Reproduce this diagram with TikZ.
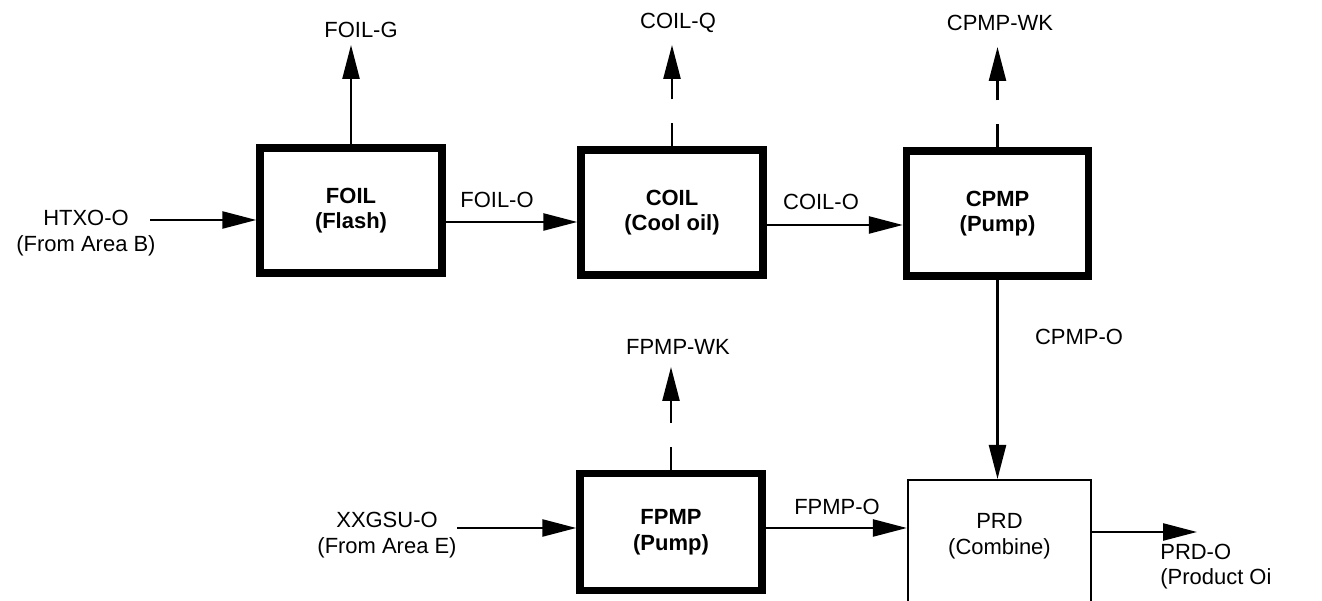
\documentclass[tikz,border=0pt]{standalone}
\usepackage{fontspec}
\setmainfont{Liberation Sans}
\usetikzlibrary{arrows.meta,positioning}
\begin{document}
\fontsize{12.5}{14.5}\selectfont
\begin{tikzpicture}[
  unit/.style={draw,line width=4.2pt,minimum width=3.64cm,minimum height=2.5cm,align=center,font=\bfseries},
  mixer/.style={draw,line width=1.3pt,minimum width=3.66cm,minimum height=3cm,anchor=north},
  stream/.style={inner sep=0pt,align=center},
  flow/.style={line width=1.4pt,-{Triangle[length=0.68cm,width=0.34cm]}},
  energy/.style={flow,dash pattern=on 0.46cm off 0.48cm on 3cm}]
  \useasboundingbox (0,0) rectangle (26.44,12.02);
  \clip (0,0) rectangle (26.44,12.02);
  % units
  \node[unit] (foil) at (7.02,7.81) {FOIL\\(Flash)};
  \node[unit] (coil) at (13.44,7.77) {COIL\\(Cool oil)};
  \node[unit] (cpmp) at (19.95,7.75) {CPMP\\(Pump)};
  \node[unit,minimum height=2.33cm] (fpmp) at (13.42,1.38) {FPMP\\(Pump)};
  \node[mixer] (prd) at (19.99,2.44) {};
  \node[stream] (prdtxt) at ([yshift=-1.14cm]prd.north) {PRD\\(Combine)};
  % streams
  \node[stream] (htxo) at (1.72,7.36) {HTXO-O\\(From Area B)};
  \node[stream] (xxgsu) at (7.74,1.32) {XXGSU-O\\(From Area E)};
  \node[stream] (foilg) at (7.22,11.42) {FOIL-G};
  \node[stream] (coilq) at (13.56,11.56) {COIL-Q};
  \node[stream] (cpmpwk) at (20.0,11.56) {CPMP-WK};
  \node[stream] (fpmpwk) at (13.56,5.08) {FPMP-WK};
  \node[stream] (foilo) at (9.94,8.02) {FOIL-O};
  \node[stream] (coilo) at (16.42,7.98) {COIL-O};
  \node[stream] (cpmpo) at (21.58,5.28) {CPMP-O};
  \node[stream] (fpmpo) at (16.74,1.88) {FPMP-O};
  \node[stream,align=left,anchor=west] (prdo) at (23.2,0.69) {PRD-O\\(Product Oi};
  \coordinate (htxoin) at (3.0,7.62);
  \coordinate (xxgsuin) at (9.14,1.46);
  \coordinate (prdout) at (23.94,1.38);
  % connectors
  \draw[flow] (htxoin) -- (htxoin -| foil.west);
  \draw[flow] (foil.east |- 0,7.58) -- (coil.west |- 0,7.58);
  \draw[flow] (coil.east |- 0,7.52) -- (cpmp.west |- 0,7.52);
  \draw[flow] (foil.north) -- (foil.north |- 0,11.12);
  \draw[energy] (coil.north) -- (coil.north |- 0,11.12);
  \draw[energy] (cpmp.north) -- (cpmp.north |- 0,11.08);
  \draw[energy] (fpmp.north) -- (fpmp.north |- 0,4.68);
  \draw[flow] (cpmp.south) -- (cpmp.south |- prd.north);
  \draw[flow] (xxgsuin) -- (xxgsuin -| fpmp.west);
  \draw[flow] (fpmp.east |- 0,1.46) -- (prd.west |- 0,1.46);
  \draw[flow] (prdout -| prd.east) -- (prdout);
\end{tikzpicture}
\end{document}
